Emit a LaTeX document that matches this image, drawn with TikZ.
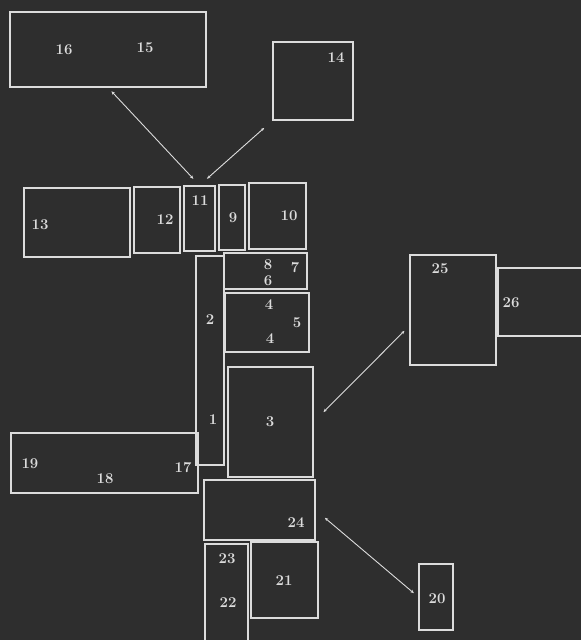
\documentclass[tikz,border=0pt]{standalone}
\usetikzlibrary{arrows.meta}
\definecolor{boardbg}{HTML}{2E2E2E}
\definecolor{chalk}{HTML}{DCDCDC}
\begin{document}
\begin{tikzpicture}[x=1bp,y=-1bp,
  plot/.style={draw=chalk, line width=1.2pt, inner sep=0pt, minimum width=#1},
  num/.style={text=chalk, font=\fontsize{15}{17}\selectfont\bfseries, inner sep=0pt},
  walk/.style={draw=chalk, line width=0.9pt, {Stealth[length=3.5pt,width=3pt]}-{Stealth[length=3.5pt,width=3pt]}}]
\fill[boardbg] (0,0) rectangle (581,640);
\useasboundingbox (0,0) rectangle (581,640);
% boxes
\node[plot=196bp, minimum height=75bp] (b16) at (108,49.5) {};
\node[plot=80bp, minimum height=78bp] (b14) at (313,81) {};
\node[plot=106bp, minimum height=69bp] (b13) at (77,222.5) {};
\node[plot=46bp, minimum height=66bp] (b12) at (157,220) {};
\node[plot=31bp, minimum height=65bp] (b11) at (199.5,218.5) {};
\node[plot=26bp, minimum height=65bp] (b9) at (232,217.5) {};
\node[plot=57bp, minimum height=66bp] (b10) at (277.5,216) {};
\node[plot=28bp, minimum height=209bp] (b2) at (210,360.5) {};
\node[plot=83bp, minimum height=36bp] (b8) at (265.5,271) {};
\node[plot=84bp, minimum height=59bp] (b4) at (267,322.5) {};
\node[plot=85bp, minimum height=110bp] (b3) at (270.5,422) {};
\node[plot=187bp, minimum height=60bp] (b19) at (104.5,463) {};
\node[plot=111bp, minimum height=60bp] (b24) at (259.5,510) {};
\node[plot=43bp, minimum height=106bp] (b23) at (226.5,597) {};
\node[plot=67bp, minimum height=76bp] (b21) at (284.5,580) {};
\node[plot=86bp, minimum height=110bp] (b25) at (453,310) {};
\node[plot=84bp, minimum height=68bp] (b26) at (540,302) {};
\node[plot=34bp, minimum height=66bp] (b20) at (436,597) {};
% numbers
\node[num] (n16) at (64,50) {16};
\node[num] (n15) at (145,48) {15};
\node[num] (n14) at (336,58) {14};
\node[num] (n13) at (40,225) {13};
\node[num] (n12) at (165,220) {12};
\node[num] (n11) at (200,201) {11};
\node[num] (n9) at (233,218) {9};
\node[num] (n10) at (289,216) {10};
\node[num] (n8) at (268,265) {8};
\node[num] (n7) at (295,268) {7};
\node[num] (n6) at (268,281) {6};
\node[num] (n4a) at (269,305) {4};
\node[num] (n5) at (297,323) {5};
\node[num] (n4b) at (270,339) {4};
\node[num] (n2) at (210,320) {2};
\node[num] (n1) at (213,420) {1};
\node[num] (n3) at (270,422) {3};
\node[num] (n19) at (30,464) {19};
\node[num] (n18) at (105,479) {18};
\node[num] (n17) at (183,468) {17};
\node[num] (n24) at (296,523) {24};
\node[num] (n23) at (227,559) {23};
\node[num] (n22) at (228,603) {22};
\node[num] (n21) at (284,581) {21};
\node[num] (n25) at (440,269) {25};
\node[num] (n26) at (511,303) {26};
\node[num] (n20) at (437,599) {20};
% arrows
\draw[walk, shorten <=5bp, shorten >=9bp] (b16.south) -- (b11.north);
\draw[walk, shorten <=11bp, shorten >=10bp] (b14.south west) -- (b11.north);
\draw[walk, shorten <=14bp, shorten >=7bp] (b3.east) -- (b25.200);
\draw[walk, shorten <=12bp, shorten >=6bp] (b24.east) -- (b20.west);
\end{tikzpicture}
\end{document}
